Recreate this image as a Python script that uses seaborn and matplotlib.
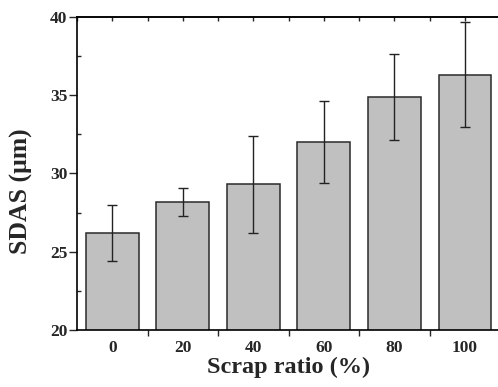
import numpy as np
import pandas as pd
import matplotlib
matplotlib.use("Agg")
import matplotlib.pyplot as plt
import seaborn as sns

# data
scrap_ratio = ["0", "20", "40", "60", "80", "100"]
sdas_mean = [26.2, 28.2, 29.3, 32.0, 34.9, 36.3]
sdas_err = [1.8, 0.9, 3.1, 2.6, 2.75, 3.35]

df = pd.DataFrame({"ratio": scrap_ratio, "sdas": sdas_mean})

sns.set_style("ticks")
plt.rcParams["font.family"] = ["Liberation Serif", "DejaVu Serif"]
plt.rcParams["font.weight"] = "bold"

fig = plt.figure(figsize=(4.98, 3.87), dpi=100)
ax = fig.add_axes([0.1546, 0.1473, 0.850, 0.8090])

sns.barplot(data=df, x="ratio", y="sdas", color="#c0c0c0", width=0.75,
            edgecolor="#2a2a2a", linewidth=1.1, saturation=1, ax=ax)
ax.errorbar(np.arange(len(scrap_ratio)), sdas_mean, yerr=sdas_err, fmt="none",
            ecolor="#222222", elinewidth=1.0, capsize=3.5, capthick=1.0)

ax.set_xlim(-0.5, len(scrap_ratio) - 0.5)
ax.set_ylim(20, 40)
ax.set_yticks([20, 25, 30, 35, 40])
ax.set_yticks([22.5, 27.5, 32.5, 37.5], minor=True)
ax.set_xticks(np.arange(len(scrap_ratio)))
ax.set_xticklabels(scrap_ratio)
ax.set_xticks(np.arange(len(scrap_ratio) - 1) + 0.5, minor=True)

ax.tick_params(axis="x", which="major", length=0, pad=7, labelsize=12.5)
ax.tick_params(axis="x", which="minor", length=4, width=1, direction="out")
ax.tick_params(axis="y", which="major", length=6, width=1, direction="out", labelsize=12.5, pad=1)
ax.tick_params(axis="y", which="minor", length=3, width=1, direction="in")

top = ax.secondary_xaxis("top")
top.set_xticks(np.arange(-0.5, len(scrap_ratio), 0.5))
top.tick_params(length=3, direction="in", labeltop=False, width=1)

for s in ax.spines.values():
    s.set_linewidth(1.2)
    s.set_color("black")
top.spines["top"].set_linewidth(1.2)

ax.set_xlabel("Scrap ratio (%)", fontsize=17.5, fontweight="bold", labelpad=1)
ax.set_ylabel("SDAS (μm)", fontsize=18.5, fontweight="bold")
ax.yaxis.set_label_coords(-0.104, 0.444)

plt.savefig("out.png", dpi=100)
